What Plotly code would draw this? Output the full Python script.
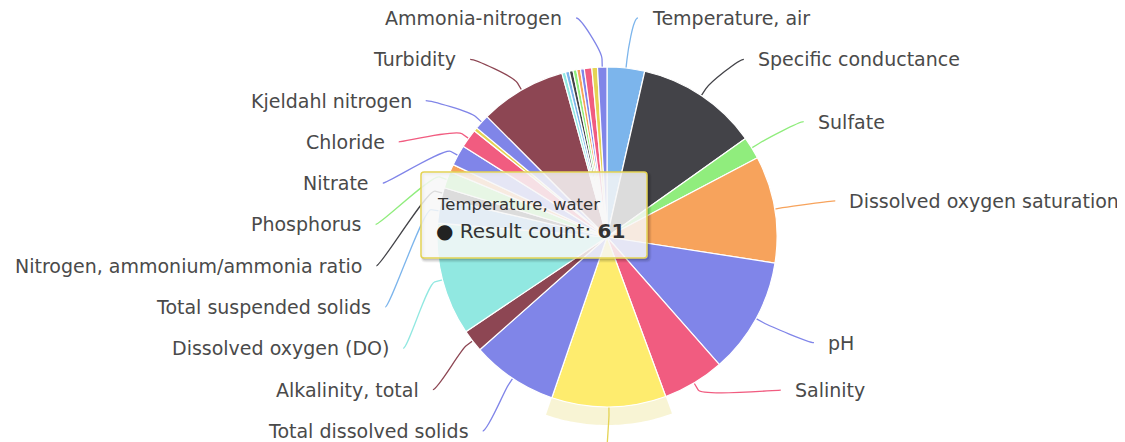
import math
import plotly.graph_objects as go

# ---------------- data ----------------
categories = [
    "Temperature, air", "Specific conductance", "Sulfate",
    "Dissolved oxygen saturation", "pH", "Salinity", "Temperature, water",
    "Total dissolved solids", "Alkalinity, total", "Dissolved oxygen (DO)",
    "Total suspended solids", "Nitrogen, ammonium/ammonia ratio", "Phosphorus",
    "Orthophosphate", "Nitrate", "Chloride", "Nitrite", "Kjeldahl nitrogen",
    "Turbidity", "Fecal coliform", "Escherichia coli", "Enterococcus",
    "Total coliform", "Phosphate-phosphorus", "Nitrogen, mixed forms",
    "Chlorophyll a", "Inorganic nitrogen", "Ammonia-nitrogen",
]
result_counts = [
    20, 65, 12, 57, 62, 33, 61,
    46, 12, 60,
    13, 6, 9,
    4, 11, 10, 2, 8,
    46, 2, 2, 2,
    2, 2, 2,
    4, 3, 5,
]
# slices whose data label is not drawn (too small, hidden by the label collision logic)
unlabelled = [
    "Orthophosphate", "Nitrite", "Fecal coliform", "Escherichia coli",
    "Enterococcus", "Total coliform", "Phosphate-phosphorus",
    "Nitrogen, mixed forms", "Chlorophyll a", "Inorganic nitrogen",
]
hovered = "Temperature, water"
series_name = "Result count"

# ---------------- style / layout ----------------
palette = ["#7cb5ec", "#434348", "#90ed7d", "#f7a35c", "#8085e9",
           "#f15c80", "#e4d354", "#8085e8", "#8d4653", "#91e8e1"]
PAGE_W, PAGE_H = 1125, 442
OX, OY = 8, 8                      # default page (body) margin
W, H = PAGE_W - OX, PAGE_H - OY    # figure size
CX, CY, R = 607, 237, 170          # pie geometry in page pixels
FONT = "DejaVu Sans"
LABEL_COLOR = "#4a4a4a"
LABEL_SIZE = 19
LABEL_TARGET_R = 220      # natural radius of label anchors
LABEL_X_A, LABEL_X_B = 232, 225   # ellipse used to compute label x from its y
LABEL_X_DY = 4
LABEL_PAD = 12
SLOT = 41.3               # label box height used for collision avoidance
SLOT_TOP, SLOT_BOTTOM = -2.65, 452
CONNECTOR_OFFSET = 8
HALO = 18
TIP_BOX = (421, 172, 647, 258)


def brighten(hex_color, amount=0.1):
    h = hex_color.lstrip("#")
    rgb = [int(h[i:i + 2], 16) for i in (0, 2, 4)]
    rgb = [min(255, int(round(c + 255 * amount))) for c in rgb]
    return "#" + "".join(f"{c:02x}" for c in rgb)


def hex_rgba(hex_color, alpha):
    h = hex_color.lstrip("#")
    r, g, b = (int(h[i:i + 2], 16) for i in (0, 2, 4))
    return f"rgba({r},{g},{b},{alpha})"


def fx(x):
    return (x - OX) / W


def fy(y):
    return 1 - (y - OY) / H


def P(x, y):
    return f"{fx(x):.5f},{fy(y):.5f}"


def polar(theta_deg, rad):
    t = math.radians(theta_deg)
    return CX + rad * math.sin(t), CY - rad * math.cos(t)


def distribute(targets, size, lo, hi):
    order = sorted(range(len(targets)), key=lambda k: targets[k])
    clusters = [{"idx": [k], "targets": [targets[k]], "size": size} for k in order]
    while True:
        for c in clusters:
            t = (min(c["targets"]) + max(c["targets"])) / 2
            c["pos"] = max(lo, min(t - c["size"] / 2, hi - c["size"]))
        merged = False
        i = len(clusters) - 1
        while i > 0:
            a, b = clusters[i - 1], clusters[i]
            if a["pos"] + a["size"] > b["pos"] + 1e-9:
                a["size"] += b["size"]
                a["targets"] += b["targets"]
                a["idx"] += b["idx"]
                clusters.pop(i)
                merged = True
            i -= 1
        if not merged:
            break
    out = {}
    for c in clusters:
        p = c["pos"]
        for k in c["idx"]:
            out[k] = p + size / 2
            p += size
    return out


colors = [palette[i % len(palette)] for i in range(len(categories))]
hi_idx = categories.index(hovered)
slice_colors = list(colors)
slice_colors[hi_idx] = brighten(colors[hi_idx])

total = sum(result_counts)
starts, ends = [], []
acc = 0
for v in result_counts:
    starts.append(360 * acc / total)
    acc += v
    ends.append(360 * acc / total)
mids = [(a + b) / 2 for a, b in zip(starts, ends)]

fig = go.Figure()
fig.add_trace(go.Pie(
    labels=categories,
    values=result_counts,
    sort=False,
    direction="clockwise",
    rotation=0,
    textinfo="none",
    hoverinfo="none",
    marker=dict(colors=slice_colors, line=dict(color="#ffffff", width=1.2)),
    domain=dict(x=[fx(CX - R), fx(CX + R)],
                y=[fy(CY + R), fy(CY - R)]),
    showlegend=False,
))

shapes = []
annotations = []

# hover halo around the hovered slice
a0, a1 = starts[hi_idx], ends[hi_idx]
n = 40
outer = [polar(a0 + (a1 - a0) * k / n, R + HALO) for k in range(n + 1)]
inner = [polar(a1 - (a1 - a0) * k / n, R) for k in range(n + 1)]
pts = outer + inner
path = "M " + P(*pts[0]) + " " + " ".join("L " + P(*p) for p in pts[1:]) + " Z"
shapes.append(dict(type="path", xref="paper", yref="paper", path=path,
                   fillcolor=hex_rgba(colors[hi_idx], 0.25), line=dict(width=0),
                   layer="below"))

# data labels with connectors
labelled = [i for i, c in enumerate(categories) if c not in unlabelled]
for side, sign in (("right", 1), ("left", -1)):
    idxs = [i for i in labelled if (mids[i] < 180) == (side == "right")]
    targets = [CY - LABEL_TARGET_R * math.cos(math.radians(mids[i])) for i in idxs]
    placed = distribute(targets, SLOT, SLOT_TOP, SLOT_BOTTOM)
    for k, i in enumerate(idxs):
        yc = placed[k]
        outside = targets[k] > PAGE_H   # anchor falls below the chart: label cropped away
        if outside:
            yc = PAGE_H + 60
        dy = yc - (CY + LABEL_X_DY)
        dx = LABEL_X_A * math.sqrt(max(1 - (dy / LABEL_X_B) ** 2, 0))
        ax = CX + sign * dx
        tx, ty = polar(mids[i], R)
        bx, by = polar(mids[i], R + CONNECTOR_OFFSET)
        c1 = (ax - sign * 5, yc)
        c2 = (2 * bx - tx, 2 * by - ty)
        path = (f"M {P(ax, yc)} C {P(*c1)} {P(*c2)} {P(bx, by)} L {P(tx, ty)}")
        shapes.append(dict(type="path", xref="paper", yref="paper", path=path,
                           line=dict(color=colors[i], width=1.3), layer="below"))
        if outside:
            continue
        annotations.append(dict(
            x=fx(ax + sign * LABEL_PAD), y=fy(yc), xref="paper", yref="paper",
            text=categories[i], showarrow=False,
            xanchor="left" if sign > 0 else "right", yanchor="middle",
            font=dict(family=FONT, size=LABEL_SIZE, color=LABEL_COLOR),
        ))

# tooltip
x0, y0, x1, y1 = TIP_BOX
rr = 3


def rounded(x0, y0, x1, y1, r):
    return (f"M {P(x0 + r, y0)} L {P(x1 - r, y0)} Q {P(x1, y0)} {P(x1, y0 + r)} "
            f"L {P(x1, y1 - r)} Q {P(x1, y1)} {P(x1 - r, y1)} "
            f"L {P(x0 + r, y1)} Q {P(x0, y1)} {P(x0, y1 - r)} "
            f"L {P(x0, y0 + r)} Q {P(x0, y0)} {P(x0 + r, y0)} Z")


for off, wdt, op in ((2, 5, 0.05), (2, 3, 0.08), (1.5, 1.5, 0.12)):
    shapes.append(dict(type="path", xref="paper", yref="paper",
                       path=rounded(x0 + off, y0 + off, x1 + off, y1 + off, rr),
                       line=dict(color=f"rgba(0,0,0,{op})", width=wdt),
                       fillcolor="rgba(0,0,0,0)", layer="above"))
shapes.append(dict(type="path", xref="paper", yref="paper",
                   path=rounded(x0, y0, x1, y1, rr),
                   line=dict(color=colors[hi_idx], width=1.5),
                   fillcolor="rgba(247,247,247,0.85)", layer="above"))

annotations.append(dict(
    x=fx(x0 + 14), y=fy(204), xref="paper", yref="paper",
    text=hovered, showarrow=False, xanchor="left", yanchor="middle",
    font=dict(family=FONT, size=16.5, color="#333333"),
))
annotations.append(dict(
    x=fx(x0 + 13), y=fy(231), xref="paper", yref="paper",
    text=f"<span style='color:#222222'>●</span> {series_name}: "
         f"<b>{result_counts[hi_idx]}</b>",
    showarrow=False, xanchor="left", yanchor="middle",
    font=dict(family=FONT, size=20, color="#333333"),
))

fig.update_layout(
    width=W, height=H, autosize=False,
    margin=dict(l=0, r=0, t=0, b=0),
    paper_bgcolor="#ffffff", plot_bgcolor="#ffffff",
    showlegend=False,
    shapes=shapes, annotations=annotations,
)

fig.write_html("out.html")
